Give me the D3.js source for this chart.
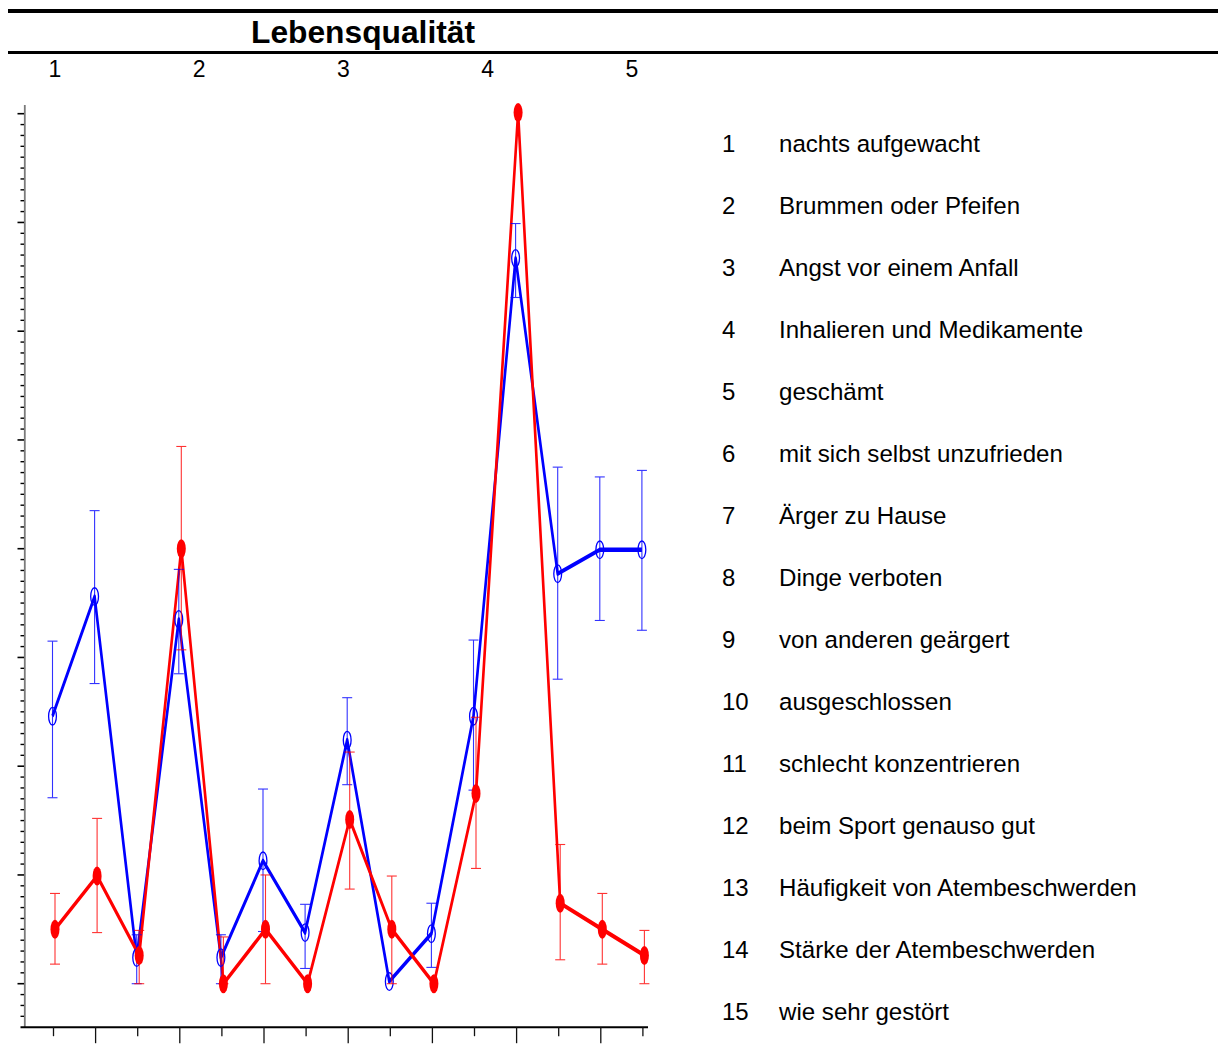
<!DOCTYPE html>
<html>
<head>
<meta charset="utf-8">
<script src="https://cdn.jsdelivr.net/npm/d3@7"></script>
<style>
  html, body { margin: 0; padding: 0; background: #fff; }
  svg { display: block; font-family: "Liberation Sans", Arial, sans-serif; }
</style>
</head>
<body>
<script>
// ---- data ----
const title = "Lebensqualität";
const scaleLabels = [1, 2, 3, 4, 5];
const items = ["nachts aufgewacht", "Brummen oder Pfeifen", "Angst vor einem Anfall",
  "Inhalieren und Medikamente", "geschämt", "mit sich selbst unzufrieden", "Ärger zu Hause",
  "Dinge verboten", "von anderen geärgert", "ausgeschlossen", "schlecht konzentrieren",
  "beim Sport genauso gut", "Häufigkeit von Atembeschwerden", "Stärke der Atembeschwerden",
  "wie sehr gestört"];
const itemNumbers = d3.range(1, 16);

const blueMean  = [2.46, 3.56, 0.24, 3.35, 0.24, 1.13, 0.47, 2.24, 0.02, 0.46, 2.46, 6.67, 3.77, 3.99, 3.99];
const blueUpper = [3.15, 4.35, 0.45, 3.81, 0.45, 1.79, 0.73, 2.63, 0.02, 0.74, 3.16, 6.99, 4.75, 4.66, 4.72];
const blueLower = [1.71, 2.76, 0.00, 2.85, 0.00, 0.48, 0.14, 1.83, 0.02, 0.15, 1.78, 6.31, 2.80, 3.34, 3.25];

const redMean   = [0.50, 0.99, 0.26, 4.00, 0.00, 0.50, 0.00, 1.51, 0.50, 0.00, 1.75, 8.01, 0.74, 0.50, 0.26];
const redUpper  = [0.83, 1.52, 0.49, 4.94, 0.43, 1.00, 0.00, 2.13, 0.99, 0.00, 2.45, 8.01, 1.28, 0.83, 0.49];
const redLower  = [0.18, 0.47, 0.00, 3.07, 0.00, 0.00, 0.00, 0.87, 0.00, 0.00, 1.06, 8.01, 0.22, 0.18, 0.00];

// ---- layout ----
const W = 1218, H = 1064;
const svg = d3.select("body").append("svg").attr("width", W).attr("height", H);

const x = d3.scaleLinear().domain([1, 15]).range([53.5, 642.9]);
const y = d3.scaleLinear().domain([0, 8]).range([983.7, 113.7]);
const topScale = d3.scaleLinear().domain([1, 5]).range([55, 632]);
const sx = 0.6; // horizontal compression for line strokes
const blueOff = -1, redOff = 1.5;

// header rules and title
svg.append("line").attr("x1", 8).attr("x2", W).attr("y1", 11).attr("y2", 11)
  .attr("stroke", "#000").attr("stroke-width", 4);
svg.append("line").attr("x1", 8).attr("x2", W).attr("y1", 52.5).attr("y2", 52.5)
  .attr("stroke", "#000").attr("stroke-width", 3);
svg.append("text").attr("x", 363).attr("y", 43).attr("text-anchor", "middle")
  .attr("font-weight", "bold").attr("font-size", 31)
  .attr("textLength", 224).attr("lengthAdjust", "spacingAndGlyphs").text(title);
svg.selectAll(".toplab").data(scaleLabels).enter().append("text")
  .attr("x", d => topScale(d)).attr("y", 77).attr("text-anchor", "middle")
  .attr("font-size", 23).text(d => d);

// y axis (no labels)
const yAxisG = svg.append("g");
yAxisG.append("line").attr("x1", 24.8).attr("x2", 24.8)
  .attr("y1", y(8.08)).attr("y2", y(-0.4)).attr("stroke", "#7a7a7a").attr("stroke-width", 1.8);
const minorT = d3.range(-3, 81).map(d => d / 10).filter(d => Math.round(d * 10) % 10 !== 0);
const majorT = d3.range(0, 9);
yAxisG.selectAll(".ymin").data(minorT).enter().append("line")
  .attr("x1", 20.5).attr("x2", 24).attr("y1", d => y(d)).attr("y2", d => y(d))
  .attr("stroke", "#000").attr("stroke-width", 1.4);
yAxisG.selectAll(".ymaj").data(majorT).enter().append("line")
  .attr("x1", 17.5).attr("x2", 24).attr("y1", d => y(d)).attr("y2", d => y(d))
  .attr("stroke", "#000").attr("stroke-width", 1.6);

// x axis
const xAxisY = y(-0.4);
svg.append("line").attr("x1", 20.5).attr("x2", 648).attr("y1", xAxisY).attr("y2", xAxisY)
  .attr("stroke", "#000").attr("stroke-width", 2);
svg.selectAll(".xt").data(itemNumbers).enter().append("line")
  .attr("x1", d => x(d)).attr("x2", d => x(d))
  .attr("y1", xAxisY).attr("y2", d => xAxisY + (d % 2 === 1 ? 9 : 16))
  .attr("stroke", "#111").attr("stroke-width", 1.3);

// series
function drawSeries(mean, up, lo, color, off) {
  const pts = mean.map((v, i) => ({ i: i + 1, v, up: up[i], lo: lo[i] }));
  const g = svg.append("g").attr("transform", `scale(${sx},1)`);
  const line = d3.line().x(d => (x(d.i) + off) / sx).y(d => y(d.v));
  g.append("path").datum(pts).attr("d", line).attr("fill", "none")
    .attr("stroke", color).attr("stroke-width", 4.4).attr("stroke-linejoin", "round");
  return pts;
}
function drawBars(pts, color, off, filled) {
  const eb = svg.append("g").attr("stroke", color).attr("stroke-width", 1.1).attr("opacity", 0.8);
  pts.filter(d => d.up - d.lo > 0.001).forEach(d => {
    const cx = x(d.i) + off;
    eb.append("line").attr("x1", cx).attr("x2", cx).attr("y1", y(d.up)).attr("y2", y(d.lo));
    eb.append("line").attr("x1", cx - 5).attr("x2", cx + 5).attr("y1", y(d.up)).attr("y2", y(d.up));
    eb.append("line").attr("x1", cx - 5).attr("x2", cx + 5).attr("y1", y(d.lo)).attr("y2", y(d.lo));
  });
  const mk = svg.append("g");
  mk.selectAll("ellipse").data(pts).enter().append("ellipse")
    .attr("cx", d => x(d.i) + off).attr("cy", d => y(d.v))
    .attr("rx", filled ? 4.5 : 3.9).attr("ry", filled ? 9.5 : 8.8)
    .attr("fill", filled ? color : "none")
    .attr("stroke", color).attr("stroke-width", filled ? 0 : 1.3);
}
const bPts = drawSeries(blueMean, blueUpper, blueLower, "#0000ff", blueOff);
const rPts = drawSeries(redMean, redUpper, redLower, "#ff0000", redOff);
drawBars(bPts, "#0000ff", blueOff, false);
drawBars(rPts, "#ff0000", redOff, true);

// legend
const leg = svg.append("g");
const legRow = d3.scaleLinear().domain([1, 15]).range([152, 152 + 62 * 14]);
leg.selectAll(".ln").data(itemNumbers).enter().append("text")
  .attr("x", 722).attr("y", d => legRow(d)).attr("font-size", 24).text(d => d);
leg.selectAll(".lt").data(items).enter().append("text")
  .attr("x", 779).attr("y", (d, i) => legRow(i + 1)).attr("font-size", 24.1).text(d => d);
</script>
</body>
</html>
